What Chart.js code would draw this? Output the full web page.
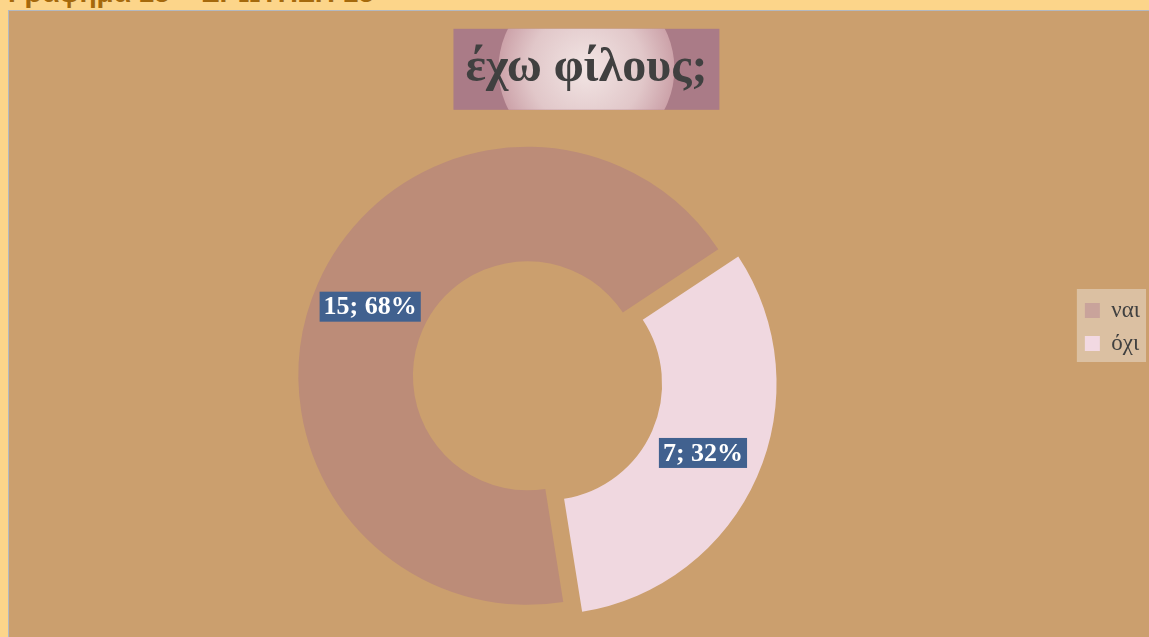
<!DOCTYPE html>
<html>
<head>
<meta charset="utf-8">
<script src="https://cdn.jsdelivr.net/npm/chart.js@4.4.1/dist/chart.umd.min.js"></script>
<style>
  html, body { margin: 0; padding: 0; width: 1149px; height: 637px; overflow: hidden; background: #FCD58A; }
  #caption { position: absolute; left: 8px; top: -21px; font: bold 28px "Liberation Sans", sans-serif; line-height: 28px; color: #A5690C; white-space: nowrap; }
  #frame { position: absolute; left: 8px; top: 10px; width: 1170px; height: 640px; border: 1px solid #B2B8C2; background: #CB9F6E; }
  #chart { position: absolute; left: -20px; top: 11px; }
</style>
</head>
<body>
<div id="caption">Γράφημα 15 – ΕΡΩΤΗΣΗ 15</div>
<div id="frame"></div>
<canvas id="chart" width="1170" height="632"></canvas>
<script>
var answers = ['ναι', 'όχι'];
var counts = [15, 7];
var sliceColors = ['#BC8C78', '#F0D8E0'];
var legendColors = ['#C9A39B', '#F2D9E2'];
var explode = [0, 80];
var chartTitle = 'έχω φίλους;';

// title sits centred on the whole frame, the ring on the plot area
var titleBackdrop = {
  id: 'titleBackdrop',
  afterLayout: function (chart) {
    var t = chart.titleBlock;
    var shift = (chart.chartArea.left + chart.chartArea.right) / 2 + 59 - (t.left + t.right) / 2;
    t.left += shift;
    t.right += shift;
  },
  beforeDraw: function (chart) {
    var t = chart.titleBlock;
    var opts = chart.options.plugins.title;
    var ctx = chart.ctx;
    ctx.save();
    ctx.font = 'bold 48px "Liberation Serif"';
    var w = ctx.measureText(opts.text).width;
    var cx = (t.left + t.right) / 2;
    var cy = t.top + opts.padding.top + 48 * 1.2 / 2;
    var bx = cx - w / 2 - 12, by = cy - 40, bw = w + 24, bh = 81;
    ctx.fillStyle = '#AA7B87';
    ctx.fillRect(bx, by, bw, bh);
    ctx.beginPath();
    ctx.rect(bx, by, bw, bh);
    ctx.clip();
    var g = ctx.createRadialGradient(cx, cy, 0, cx, cy, 88);
    g.addColorStop(0, '#F2E5E4');
    g.addColorStop(0.65, '#E1C7C9');
    g.addColorStop(1, '#CCA2A9');
    ctx.fillStyle = g;
    ctx.beginPath();
    ctx.arc(cx, cy, 88, 0, Math.PI * 2);
    ctx.fill();
    ctx.restore();
  }
};

var legendBackdrop = {
  id: 'legendBackdrop',
  beforeDraw: function (chart) {
    var boxes = chart.legend.legendHitBoxes;
    if (!boxes || !boxes.length) return;
    var first = boxes[0], last = boxes[boxes.length - 1];
    var right = Math.max.apply(null, boxes.map(function (b) { return b.left + b.width; }));
    var ctx = chart.ctx;
    ctx.save();
    ctx.fillStyle = '#DBC0A2';
    ctx.fillRect(first.left - 8, first.top - 10, right - first.left + 14, last.top + last.height - first.top + 17);
    ctx.restore();
  }
};

var sliceLabels = {
  id: 'sliceLabels',
  afterDatasetsDraw: function (chart) {
    var ctx = chart.ctx;
    var meta = chart.getDatasetMeta(0);
    var total = counts.reduce(function (a, b) { return a + b; }, 0);
    ctx.save();
    ctx.font = 'bold 26px "Liberation Serif"';
    ctx.textAlign = 'center';
    ctx.textBaseline = 'middle';
    meta.data.forEach(function (arc, i) {
      var mid = (arc.startAngle + arc.endAngle) / 2;
      var r = (arc.innerRadius + arc.outerRadius) / 2 + (arc.options.offset || 0) / 4;
      var x = arc.x + Math.cos(mid) * r;
      var y = arc.y + Math.sin(mid) * r;
      var text = counts[i] + '; ' + Math.round(counts[i] / total * 100) + '%';
      var w = ctx.measureText(text).width + 8;
      ctx.fillStyle = '#41618F';
      ctx.fillRect(x - w / 2, y - 15, w, 30);
      ctx.fillStyle = '#FFFFFF';
      ctx.fillText(text, x, y + 1);
    });
    ctx.restore();
  }
};

new Chart(document.getElementById('chart'), {
  type: 'doughnut',
  data: {
    labels: answers,
    datasets: [{
      data: counts,
      backgroundColor: sliceColors,
      borderWidth: 0,
      offset: explode,
      hoverOffset: 0
    }]
  },
  options: {
    responsive: false,
    animation: false,
    events: [],
    rotation: 171,
    radius: 229,
    cutout: '50%',
    plugins: {
      title: {
        display: true,
        text: chartTitle,
        color: '#404040',
        font: { family: '"Liberation Serif"', size: 48, weight: 'bold' },
        padding: { top: 29, bottom: 11 }
      },
      legend: {
        position: 'right',
        labels: {
          color: '#404040',
          font: { family: '"Liberation Serif"', size: 23 },
          boxWidth: 15,
          boxHeight: 15,
          padding: 10,
          generateLabels: function (chart) {
            var items = Chart.overrides.doughnut.plugins.legend.labels.generateLabels(chart);
            items.forEach(function (item, i) {
              item.fillStyle = legendColors[i];
              item.strokeStyle = legendColors[i];
              item.lineWidth = 0;
            });
            return items;
          }
        }
      },
      tooltip: { enabled: false }
    }
  },
  plugins: [titleBackdrop, legendBackdrop, sliceLabels]
});
</script>
</body>
</html>
